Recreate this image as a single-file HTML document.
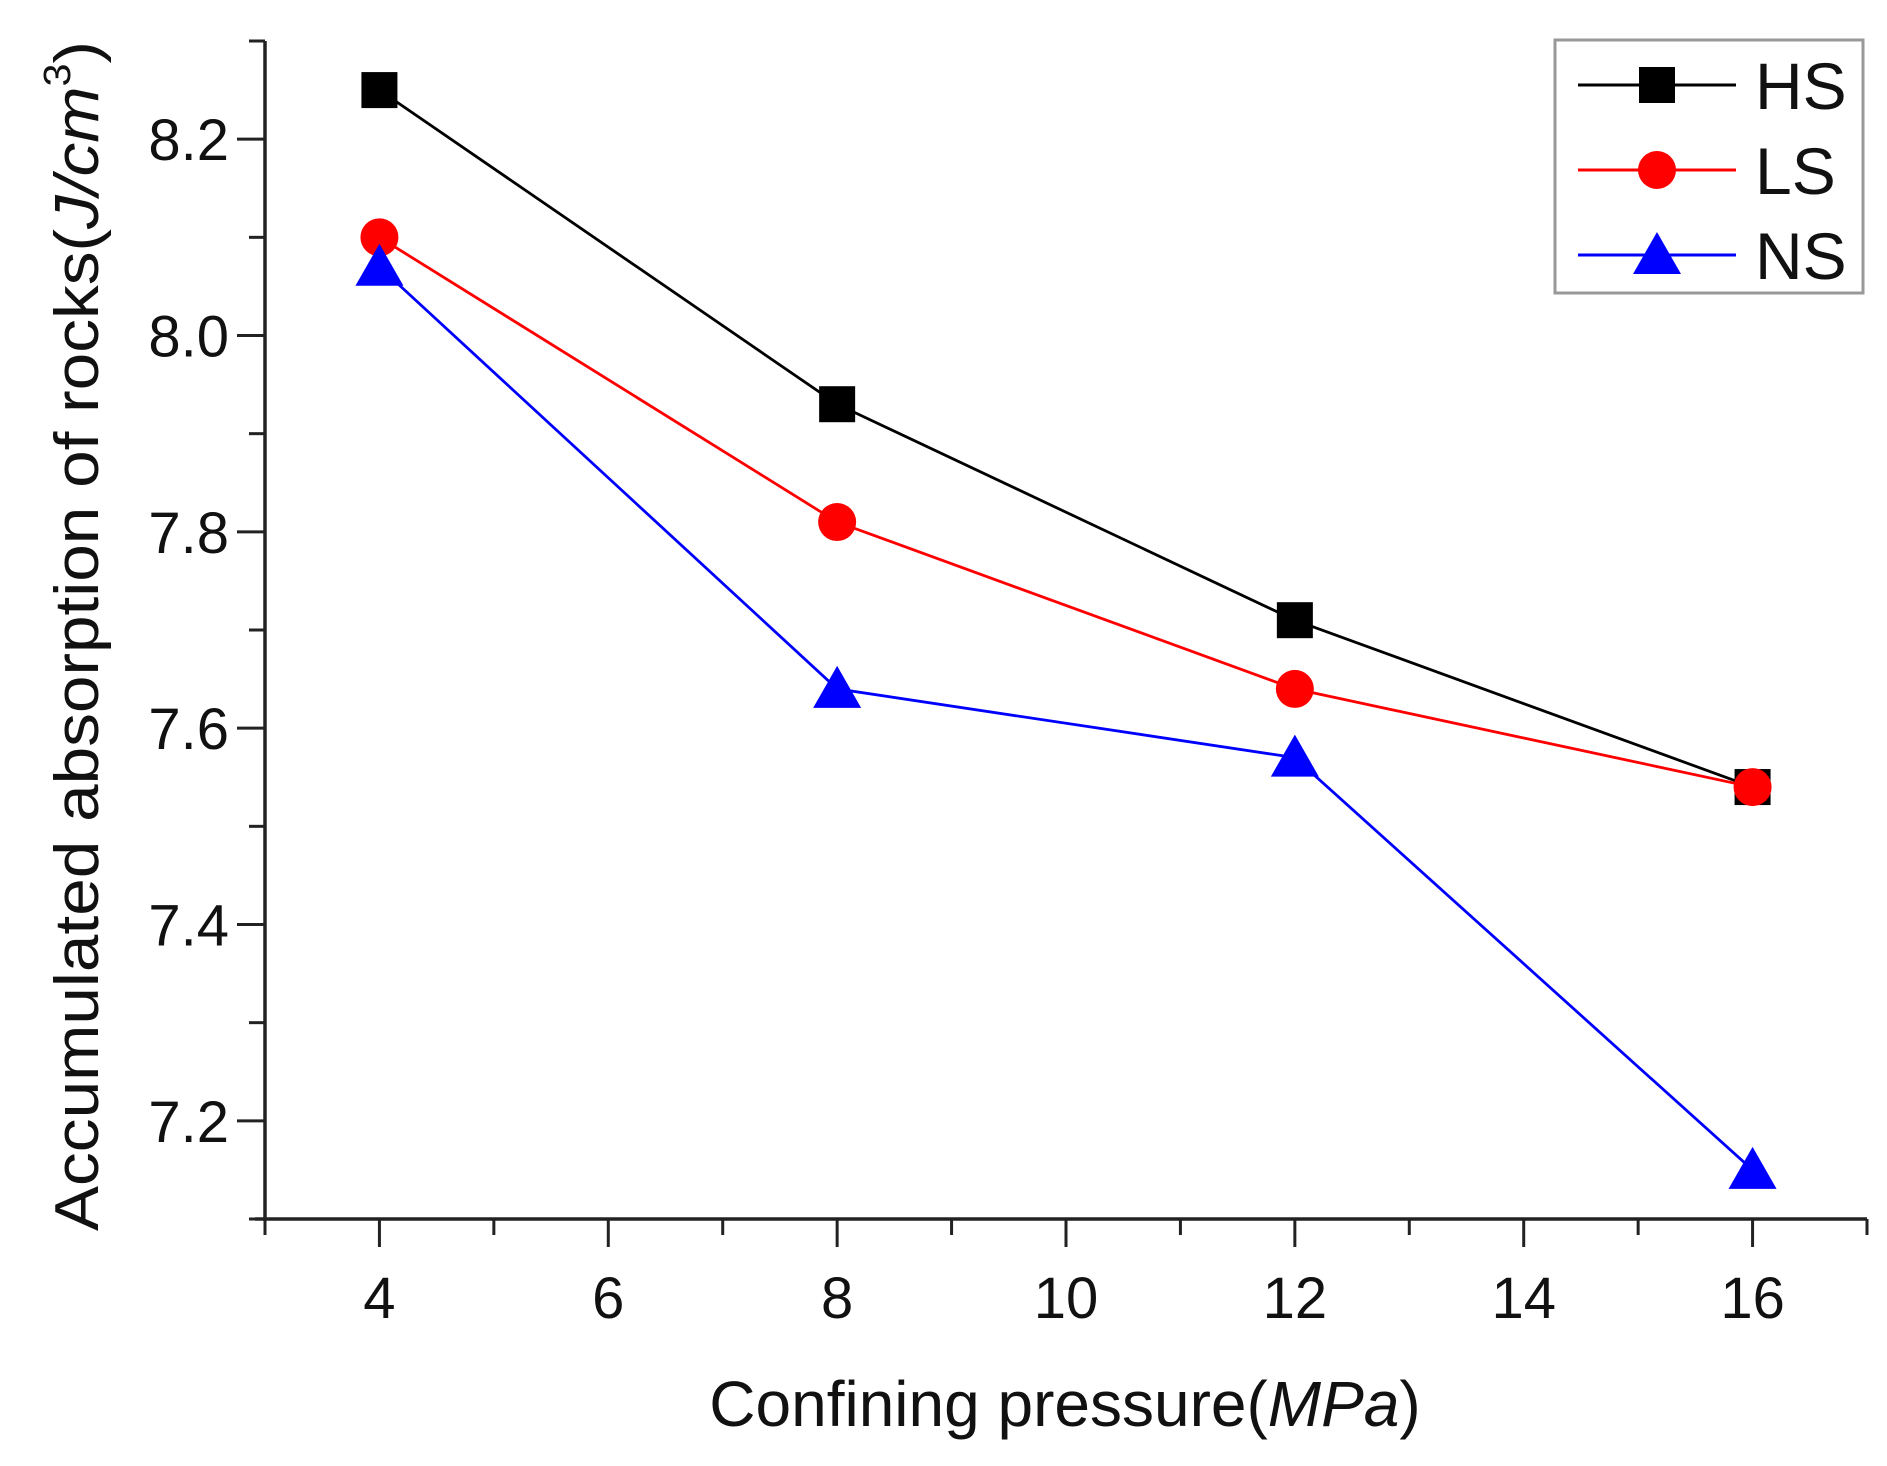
<!DOCTYPE html>
<html><head><meta charset="utf-8"><style>
html,body{margin:0;padding:0;background:#fff;}
svg{display:block;font-family:"Liberation Sans",Arial,sans-serif;}
</style></head><body>
<svg id="chart" width="1887" height="1466" viewBox="0 0 1887 1466" xmlns="http://www.w3.org/2000/svg">
<g id="axes"></g>
<g id="series"></g>
<text x="1065" y="1426" font-size="64" text-anchor="middle" fill="#111">Confining pressure(<tspan font-style="italic">MPa</tspan>)</text>
<text transform="translate(98,636) rotate(-90)" font-size="62" text-anchor="middle" fill="#111" textLength="1190" lengthAdjust="spacingAndGlyphs">Accumulated absorption of rocks(<tspan font-style="italic">J/cm</tspan><tspan font-size="38" dy="-28">3</tspan><tspan dy="28">)</tspan></text>
<g id="legend">
<rect x="1555" y="40" width="308" height="253" fill="#fff" stroke="#999" stroke-width="3"/>
</g>
</svg>
<script>
const categories = [4, 8, 12, 16];
const hsValues = [8.25, 7.93, 7.71, 7.54];
const lsValues = [8.10, 7.81, 7.64, 7.54];
const nsValues = [8.07, 7.64, 7.57, 7.15];
const xTicks = [4, 6, 8, 10, 12, 14, 16];
const yTicks = [7.2, 7.4, 7.6, 7.8, 8.0, 8.2];
const seriesNames = ["HS", "LS", "NS"];

const NS_ = "http://www.w3.org/2000/svg";
const X0 = 265, X1 = 1867, XMIN = 3, XMAX = 17;
const Y0 = 1219, Y1 = 41, YMIN = 7.1, YMAX = 8.3;
function xs(v){ return X0 + (v - XMIN) / (XMAX - XMIN) * (X1 - X0); }
function ys(v){ return Y0 - (v - YMIN) / (YMAX - YMIN) * (Y0 - Y1); }
function mk(tag, attrs, parent){
  const e = document.createElementNS(NS_, tag);
  for (const k in attrs) e.setAttribute(k, attrs[k]);
  parent.appendChild(e); return e;
}
const axes = document.getElementById('axes');
let el = mk('line', {x1:X0, y1:Y1, x2:X0, y2:Y0+2, stroke:'#222', 'stroke-width':3.5}, axes);


el = mk('line', {x1:X0-10, y1:Y0, x2:X1, y2:Y0, stroke:'#222', 'stroke-width':3.5}, axes);


// x ticks: major every 2, minor at odd
for (let v = XMIN; v <= XMAX; v++) {
  const major = xTicks.indexOf(v) >= 0;
  el = mk('line', {x1:xs(v), y1:Y0, x2:xs(v), y2:Y0 + (major ? 28 : 16), stroke:'#222', 'stroke-width':3}, axes);
  
  
}
xTicks.forEach(v => {
  el = mk('text', {x:xs(v), y:1318, 'font-size':58, 'text-anchor':'middle', fill:'#111'}, axes);
  el.textContent = String(v);
  
  
});
for (let i = 0; i <= 12; i++) {
  const v = YMIN + i * 0.1;
  const major = (i % 2 === 1);
  el = mk('line', {x1:X0 - (major ? 28 : 16), y1:ys(v), x2:X0, y2:ys(v), stroke:'#222', 'stroke-width':3}, axes);
  
  
}
yTicks.forEach(v => {
  el = mk('text', {x:229, y:ys(v) + 21, 'font-size':58, 'text-anchor':'end', fill:'#111'}, axes);
  el.textContent = v.toFixed(1);
  
  
});

function marker(type, cx, cy, color, parent){
  let m;
  if (type === 'square') m = mk('rect', {x:cx-18, y:cy-18, width:36, height:36, fill:color}, parent);
  else if (type === 'circle') m = mk('circle', {cx:cx, cy:cy, r:19, fill:color}, parent);
  else m = mk('polygon', {points:`${cx},${cy-23} ${cx-24},${cy+19} ${cx+24},${cy+19}`, fill:color}, parent);
  return m;
}
const series = document.getElementById('series');
const defs = [
  {name:seriesNames[0], vals:hsValues, color:'#000', m:'square'},
  {name:seriesNames[1], vals:lsValues, color:'#ff0000', m:'circle'},
  {name:seriesNames[2], vals:nsValues, color:'#0000ff', m:'triangle'}
];
defs.forEach(s => {
  const pts = categories.map((c, i) => xs(c) + ',' + ys(s.vals[i])).join(' ');
  el = mk('polyline', {points:pts, fill:'none', stroke:s.color, 'stroke-width':2.8}, series);
  
  
});
defs.forEach(s => {
  categories.forEach((c, i) => {
    el = marker(s.m, xs(c), ys(s.vals[i]), s.color, series);
    
    
  });
});
const legend = document.getElementById('legend');
defs.forEach((s, i) => {
  const y = 85 + i * 85;
  el = mk('line', {x1:1578, y1:y, x2:1736, y2:y, stroke:s.color, 'stroke-width':3}, legend);
  
  
  el = marker(s.m, 1657, y, s.color, legend);
  
  
  el = mk('text', {x:1755, y:y + 24, 'font-size':66, fill:'#111'}, legend);
  el.textContent = s.name;
  
  
});
</script>
</body></html>
